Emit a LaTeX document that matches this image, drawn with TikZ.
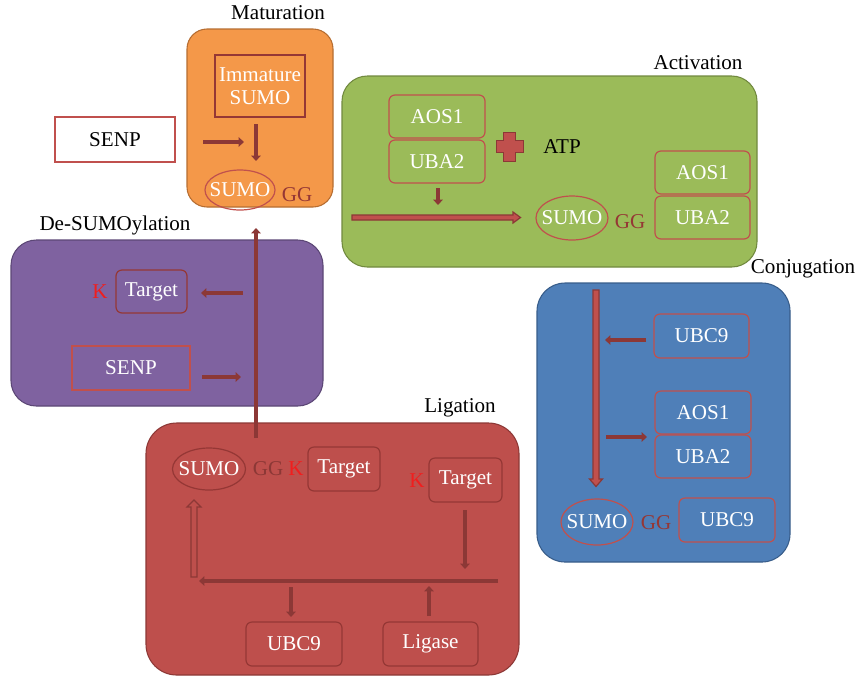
\documentclass[tikz,border=0pt]{standalone}
\usepackage{fontspec}
\setmainfont{Liberation Serif}
\usetikzlibrary{arrows.meta,shapes.geometric}

\definecolor{orangeF}{HTML}{F49849}
\definecolor{orangeD}{HTML}{B66D31}
\definecolor{greenF}{HTML}{9BBB59}
\definecolor{greenD}{HTML}{71893F}
\definecolor{purpleF}{HTML}{7F62A0}
\definecolor{purpleD}{HTML}{5C4776}
\definecolor{blueF}{HTML}{4F7FB8}
\definecolor{blueD}{HTML}{385D8A}
\definecolor{redF}{HTML}{BE4F4C}
\definecolor{redD}{HTML}{8C3836}
\definecolor{accent}{HTML}{C0504D}
\definecolor{arrowc}{HTML}{8C3836}
\definecolor{ggc}{HTML}{953735}
\definecolor{lysc}{HTML}{F01E1E}

\def\u{0.75pt}

\begin{document}
\begin{tikzpicture}[x=0.75pt,y=-0.75pt,
  every node/.style={font=\fontsize{15.8}{18}\selectfont, inner sep=0pt},
  panel/.style={draw, line width=0.8pt},
  title/.style={text=black},
  inbox/.style={draw=accent, line width=0.9pt, rounded corners=4.5pt, text=white},
  sqbox/.style={draw=accent, line width=0.9pt, text=white},
  sumo/.style={ellipse, draw=accent, line width=0.9pt,
    label={[text=white, font=\fontsize{15.8}{18}\selectfont]center:SUMO}},
  gg/.style={text=ggc},
  lys/.style={text=lysc},
  arr/.style={draw=arrowc, line width=3pt, -{Triangle[length=4pt,width=7pt]}},
  blockarr/.style={fill=accent, draw=arrowc, line width=0.9pt, line join=miter},
  hollowarr/.style={draw=arrowc, line width=0.9pt, line join=miter}
]
\useasboundingbox (0,0) rectangle (859,676);

% ---------- panels ----------
\node[panel, fill=orangeF, draw=orangeD, rounded corners=15pt,
      minimum width=146*\u, minimum height=178*\u] (mat) at (260,118) {};
\node[panel, fill=greenF, draw=greenD, rounded corners=19pt,
      minimum width=415*\u, minimum height=191*\u] (act) at (549.5,171.5) {};
\node[panel, fill=purpleF, draw=purpleD, rounded corners=19pt,
      minimum width=312*\u, minimum height=166*\u] (des) at (167,323) {};
\node[panel, fill=blueF, draw=blueD, rounded corners=21pt,
      minimum width=253*\u, minimum height=279*\u] (con) at (663.5,422.5) {};
\node[panel, fill=redF, draw=redD, rounded corners=23pt,
      minimum width=373*\u, minimum height=252*\u] (lig) at (332.5,549) {};

% ---------- panel titles ----------
\node[title] (tmat) at (278,13) {Maturation};
\node[title] (tact) at (698,63) {Activation};
\node[title] (tdes) at (115,225) {De-SUMOylation};
\node[title] (tcon) at (803,269) {Conjugation};
\node[title] (tlig) at (460,408) {Ligation};

% ---------- SENP (free) ----------
\node[draw=accent, line width=1.1pt, fill=white, text=black,
      minimum width=120*\u, minimum height=45*\u] (senp0) at (115,139.5) {SENP};

% ---------- Maturation ----------
\node[sqbox, draw=ggc, align=center, minimum width=90*\u, minimum height=62*\u]
      (imm) at (260,86) {Immature\\[-1pt]SUMO};
\node[sumo, minimum width=70*\u, minimum height=40*\u] (msumo) at (240,190) {};
\node[gg] (mgg) at (297,195) {GG};
\coordinate (ma1) at (203,142); \coordinate (ma2) at (244,142);
\coordinate (mb1) at (256,124); \coordinate (mb2) at (256,161);
\draw[arr] (ma1) -- (ma2);
\draw[arr] (mb1) -- (mb2);

% ---------- Activation ----------
\node[inbox, minimum width=96*\u, minimum height=43*\u] (aos1a) at (437,116.5) {AOS1};
\node[inbox, minimum width=96*\u, minimum height=43*\u] (uba2a) at (437,161.5) {UBA2};
\draw[fill=accent, draw=arrowc, line width=0.7pt]
  (503,132) -- (515,132) -- (515,140) -- (523,140) -- (523,152) -- (515,152)
  -- (515,161) -- (503,161) -- (503,152) -- (496,152) -- (496,140) -- (503,140) -- cycle;
\node[text=black] (atp) at (562,147) {ATP};
\coordinate (aa1) at (438,188); \coordinate (aa2) at (438,205);
\draw[arr] (aa1) -- (aa2);
\draw[blockarr] (352,215) -- (513,215) -- (513,212) -- (520.5,217.5) -- (513,223)
  -- (513,220) -- (352,220) -- cycle;
\node[sumo, minimum width=72*\u, minimum height=44*\u] (asumo) at (572,218) {};
\node[gg] (agg) at (630,222) {GG};
\node[inbox, minimum width=95*\u, minimum height=43*\u] (aos1b) at (702.5,172.5) {AOS1};
\node[inbox, minimum width=95*\u, minimum height=43*\u] (uba2b) at (702.5,217.5) {UBA2};

% ---------- De-SUMOylation ----------
\node[lys] (dk) at (100,292) {K};
\node[inbox, draw=ggc, minimum width=71*\u, minimum height=43*\u] (dtarget) at (151.5,291.5) {Target};
\node[sqbox, minimum width=118*\u, minimum height=44*\u] (dsenp) at (131,368) {SENP};
\coordinate (da1) at (243,293); \coordinate (da2) at (201,293);
\coordinate (db1) at (202,377); \coordinate (db2) at (241,377);
\draw[arr] (da1) -- (da2);
\draw[arr] (db1) -- (db2);

% long return path from ligation to maturation
\coordinate (up1) at (256,438); \coordinate (up2) at (256,228);
\draw[arr] (up1) -- (up2);

% ---------- Conjugation ----------
\draw[blockarr] (593,290) -- (599,290) -- (599,479) -- (602.5,479) -- (596,486.5)
  -- (589.5,479) -- (593,479) -- cycle;
\node[inbox, minimum width=95*\u, minimum height=44*\u] (cubc9) at (701.5,336) {UBC9};
\node[inbox, minimum width=96*\u, minimum height=43*\u] (caos1) at (703,412.5) {AOS1};
\node[inbox, minimum width=96*\u, minimum height=43*\u] (cuba2) at (703,456.5) {UBA2};
\coordinate (ca1) at (646,340); \coordinate (ca2) at (605,340);
\coordinate (cb1) at (606,437); \coordinate (cb2) at (647,437);
\draw[arr] (ca1) -- (ca2);
\draw[arr] (cb1) -- (cb2);
\node[sumo, minimum width=72*\u, minimum height=46*\u] (csumo) at (597,522) {};
\node[gg] (cgg) at (656,523) {GG};
\node[inbox, minimum width=96*\u, minimum height=44*\u] (cubc9b) at (727,520) {UBC9};

% ---------- Ligation ----------
\node[sumo, draw=ggc, minimum width=73*\u, minimum height=42*\u] (lsumo) at (209,469) {};
\node[gg, text=redD] (lgg) at (268,469) {GG};
\node[lys] (lk1) at (296,469) {K};
\node[inbox, draw=ggc, minimum width=72*\u, minimum height=44*\u] (ltarget1) at (344,469) {Target};
\node[lys] (lk2) at (417,481) {K};
\node[inbox, draw=ggc, minimum width=73*\u, minimum height=44*\u] (ltarget2) at (465.5,480) {Target};
\node[inbox, draw=ggc, minimum width=96*\u, minimum height=44*\u] (lubc9) at (294,644) {UBC9};
\node[inbox, draw=ggc, minimum width=95*\u, minimum height=44*\u] (lligase) at (430.5,644) {Ligase};
\coordinate (la1) at (465,510); \coordinate (la2) at (465,569);
\coordinate (lb1) at (498,581); \coordinate (lb2) at (199,581);
\coordinate (lc1) at (291,587); \coordinate (lc2) at (291,617);
\coordinate (ld1) at (429,616); \coordinate (ld2) at (429,586);
\draw[arr] (la1) -- (la2);
\draw[arr] (lb1) -- (lb2);
\draw[arr] (lc1) -- (lc2);
\draw[arr] (ld1) -- (ld2);
\draw[hollowarr] (191,577) -- (191,507) -- (187,507) -- (194,500) -- (201,507)
  -- (197,507) -- (197,577) -- cycle;
\end{tikzpicture}
\end{document}
